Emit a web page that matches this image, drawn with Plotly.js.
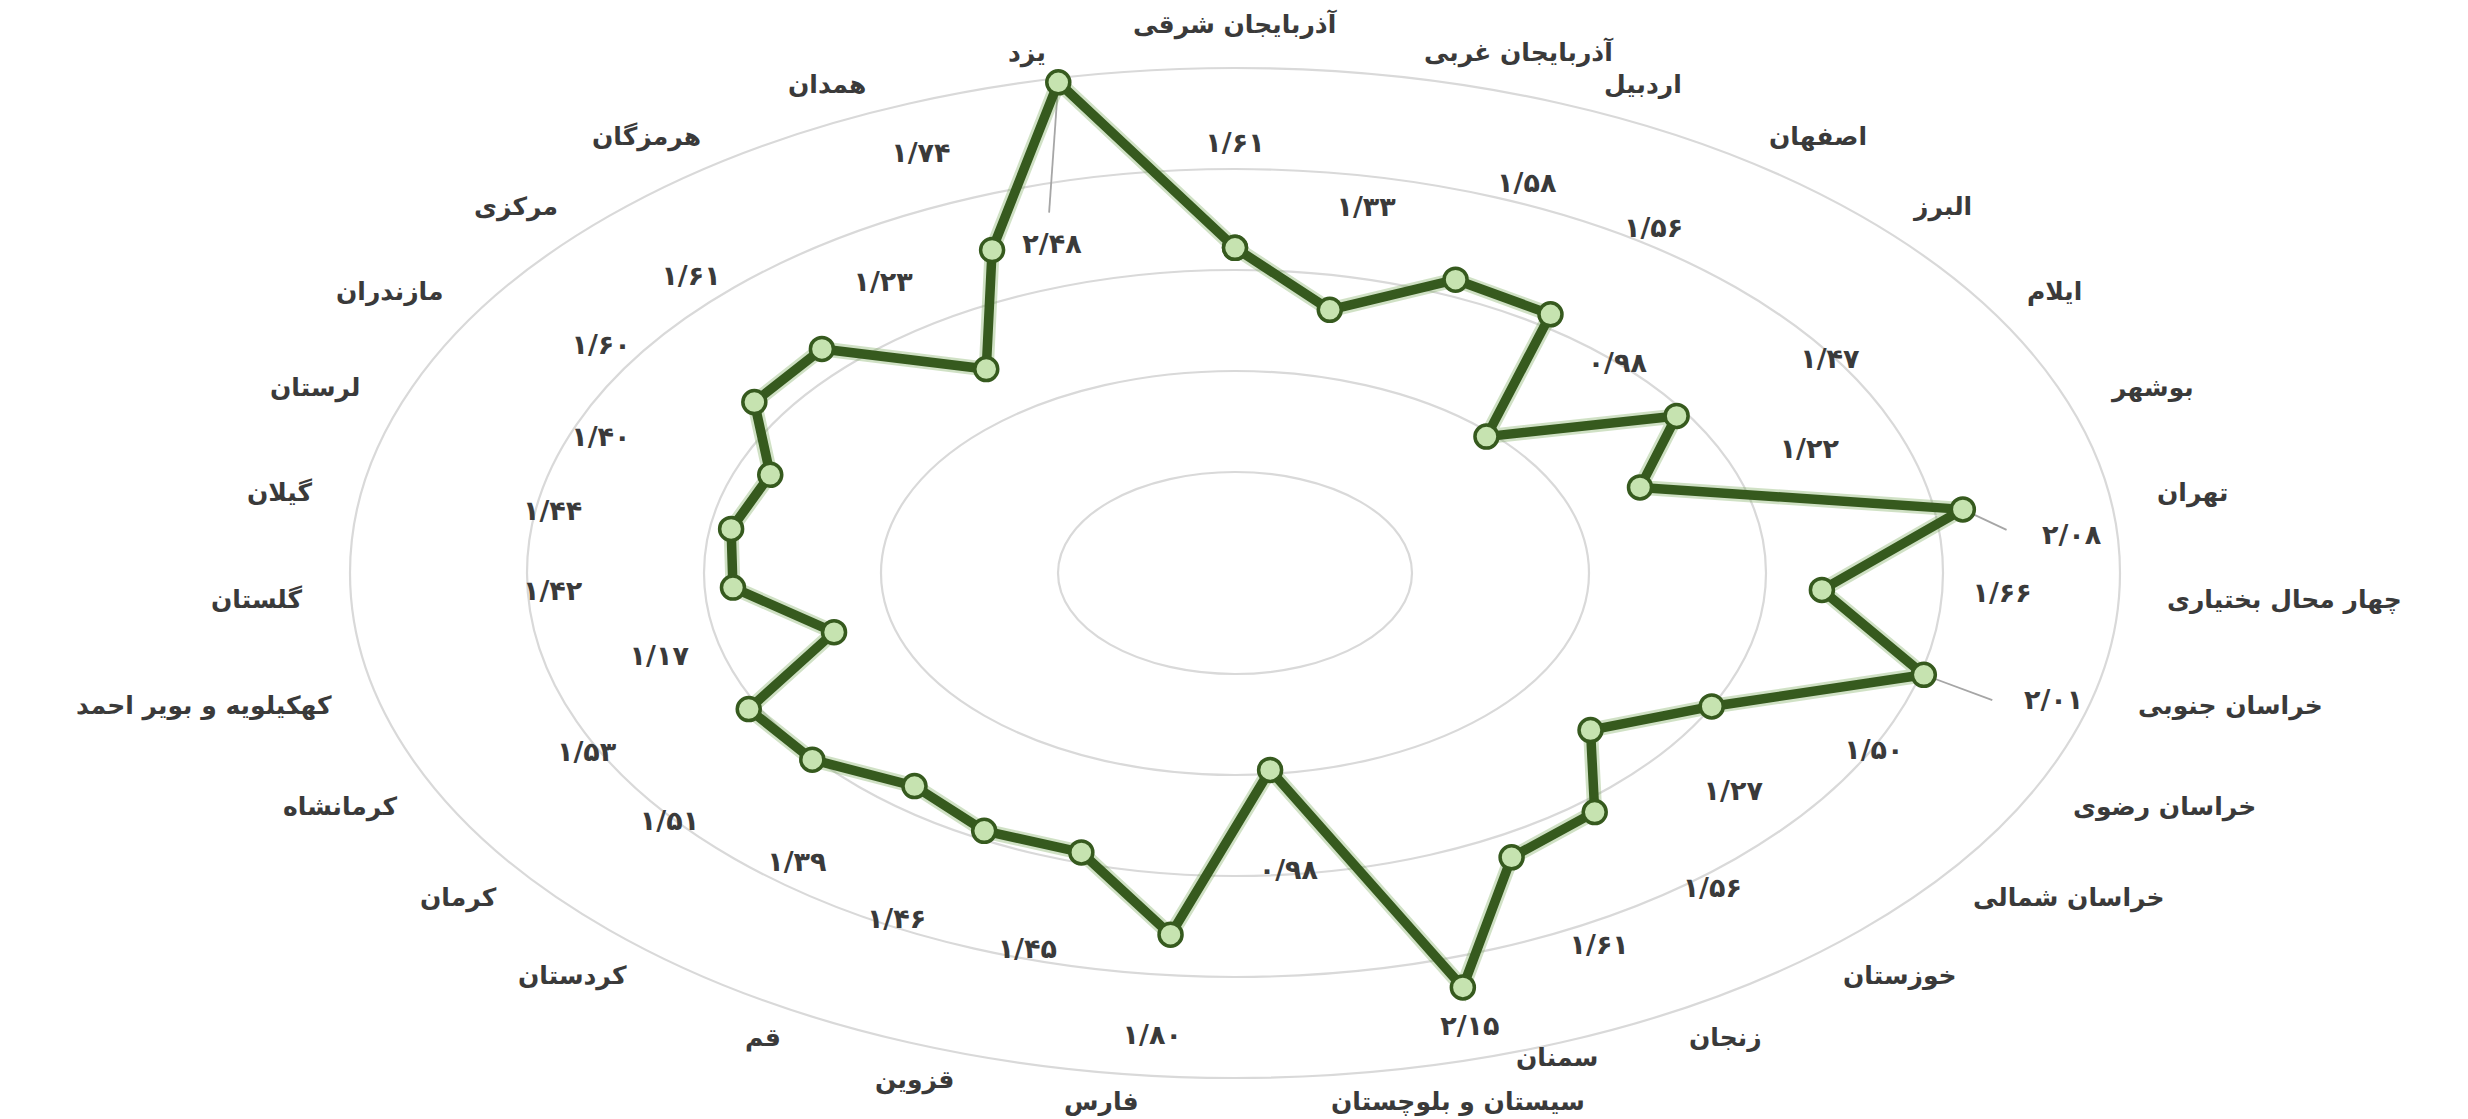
<!DOCTYPE html>
<html>
<head>
<meta charset="utf-8">
<script src="https://cdn.plot.ly/plotly-3.0.1.min.js"></script>
<style>
  html, body { margin: 0; padding: 0; background: #ffffff; }
  #chart { width: 2468px; height: 1119px; }
</style>
</head>
<body>
<div id="chart"></div>
<script>
// ---- data (clockwise from the top) ----
const categories = [
  'آذربایجان شرقی', 'آذربایجان غربی', 'اردبیل', 'اصفهان', 'البرز', 'ایلام', 'بوشهر',
  'تهران', 'چهار محال بختیاری', 'خراسان جنوبی', 'خراسان رضوی', 'خراسان شمالی',
  'خوزستان', 'زنجان', 'سمنان', 'سیستان و بلوچستان', 'فارس', 'قزوین', 'قم',
  'کردستان', 'کرمان', 'کرمانشاه', 'کهکیلویه و بویر احمد', 'گلستان', 'گیلان',
  'لرستان', 'مازندران', 'مرکزی', 'هرمزگان', 'همدان', 'یزد'
];
const values = [
  1.61, 1.33, 1.58, 1.56, 0.98, 1.47, 1.22,
  2.08, 1.66, 2.01, 1.50, 1.27,
  1.56, 1.61, 2.15, 0.98, 1.80, 1.45, 1.46,
  1.39, 1.51, 1.53, 1.17, 1.42, 1.44,
  1.40, 1.60, 1.61, 1.23, 1.74, 2.48
];
const gridValues = [0.5, 1.0, 1.5, 2.0, 2.5];

// ---- layout helpers (positions / styles, not data) ----
const LABEL_OFFSET = 0.51;      // value labels sit this far outside their point
const CAT_RADIUS = 2.63;        // category names sit on this ring
const labelSpots = {            // hand-placed value labels of the original
  'یزد': { r: 1.70, deg: -17.7 },
  'تهران': { r: 2.37, deg: 85.7 },
  'خراسان جنوبی': { r: 2.40, deg: 105.5 },
  'سمنان': { r: 2.35, deg: 163.6 }
};
const leaderEnds = {
  'یزد': { r: 1.86, deg: -16.4 },
  'تهران': { r: 2.19, deg: 84.4 },
  'خراسان جنوبی': { r: 2.23, deg: 106.4 }
};
const catNudge = { 'سمنان': 0.11 };   // lift so the two bottom names stack

const N = categories.length;
const angleOf = i => i * 360 / N;
const rad = d => d * Math.PI / 180;
const px = (r, deg) => r * Math.sin(rad(deg));
const py = (r, deg) => r * Math.cos(rad(deg));
const fa = v => v.toFixed(2).replace('.', '/').replace(/\d/g, d => '۰۱۲۳۴۵۶۷۸۹'[+d]);

// main series (closed polygon)
const lx = [], ly = [];
values.forEach((v, i) => { lx.push(px(v, angleOf(i))); ly.push(py(v, angleOf(i))); });
lx.push(lx[0]); ly.push(ly[0]);

const GREEN = '#365a1e';
const glowTrace = {
  type: 'scatter', mode: 'lines', x: lx, y: ly,
  line: { color: 'rgba(120,170,90,0.35)', width: 15 },
  hoverinfo: 'skip', cliponaxis: false
};
const seriesTrace = {
  type: 'scatter', mode: 'lines+markers', x: lx, y: ly,
  line: { color: GREEN, width: 9.5, shape: 'linear' },
  marker: { size: 23, color: '#c6e3b0', line: { color: GREEN, width: 3.5 } },
  hoverinfo: 'skip', cliponaxis: false
};

// leader lines
const leaderTraces = Object.keys(leaderEnds).map(name => {
  const i = categories.indexOf(name);
  const e = leaderEnds[name];
  return {
    type: 'scatter', mode: 'lines',
    x: [px(values[i], angleOf(i)), px(e.r, e.deg)],
    y: [py(values[i], angleOf(i)), py(e.r, e.deg)],
    line: { color: '#a6a6a6', width: 1.8 }, hoverinfo: 'skip'
  };
});

// value labels
const vx = [], vy = [], vt = [];
values.forEach((v, i) => {
  const s = labelSpots[categories[i]];
  const r = s ? s.r : v + LABEL_OFFSET;
  const d = s ? s.deg : angleOf(i);
  vx.push(px(r, d)); vy.push(py(r, d)); vt.push(fa(v));
});
const valueTrace = {
  type: 'scatter', mode: 'text', x: vx, y: vy, text: vt,
  textposition: 'middle center',
  textfont: { family: 'DejaVu Sans', size: 27, color: '#3a3a3a', weight: 'bold' },
  hoverinfo: 'skip', cliponaxis: false
};

// category annotations
const annotations = categories.map((c, i) => {
  const d = angleOf(i);
  const s = Math.sin(rad(d));
  let xanchor = 'center', yanchor = 'middle';
  if (s > 0.05) xanchor = 'left';
  else if (s < -0.05) xanchor = 'right';
  else if (Math.cos(rad(d)) > 0) yanchor = 'bottom';
  return {
    x: px(CAT_RADIUS, d), y: py(CAT_RADIUS, d) + (catNudge[c] || 0), xref: 'x', yref: 'y',
    text: c, showarrow: false, xanchor: xanchor, yanchor: yanchor,
    font: { family: 'DejaVu Sans', size: 25, color: '#3a3a3a', weight: 'bold' }
  };
});

// grid rings
const shapes = gridValues.map(g => ({
  type: 'circle', xref: 'x', yref: 'y', x0: -g, x1: g, y0: -g, y1: g,
  line: { color: '#d9d9d9', width: 2.2 }, layer: 'below'
}));

const W = 2468, H = 1119, CX = 1235, CY = 573, SX = 354, SY = 202;
const layout = {
  width: W, height: H, autosize: false,
  margin: { l: 0, r: 0, t: 0, b: 0, pad: 0 },
  paper_bgcolor: '#ffffff', plot_bgcolor: '#ffffff',
  showlegend: false,
  xaxis: { range: [-CX / SX, (W - CX) / SX], visible: false, fixedrange: true },
  yaxis: { range: [-(H - CY) / SY, CY / SY], visible: false, fixedrange: true },
  shapes: shapes,
  annotations: annotations
};

Plotly.newPlot('chart', [...leaderTraces, glowTrace, seriesTrace, valueTrace], layout,
  { staticPlot: true, displayModeBar: false });
</script>
</body>
</html>
